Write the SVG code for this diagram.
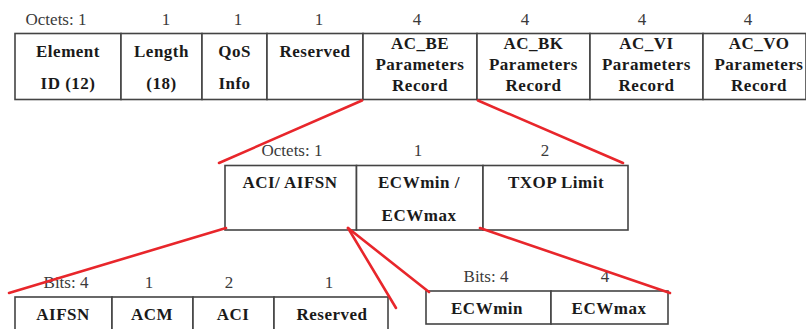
<svg xmlns="http://www.w3.org/2000/svg" width="806" height="329" viewBox="0 0 806 329">
<style>
.cell{fill:#fff;stroke:#444;stroke-width:1.6}
.t{font-family:"Liberation Serif","Times New Roman",serif;font-weight:bold;font-size:17px;letter-spacing:0.5px;fill:#1a1a1a;text-anchor:middle}
.h{font-family:"Liberation Serif","Times New Roman",serif;font-size:17px;fill:#3a3a3a;text-anchor:middle}
.c{stroke:#e8262b;stroke-width:2.6;fill:none;stroke-linecap:round}
</style>
<rect width="806" height="329" fill="#fff"/>
<g id="top-table">
  <g id="top-headers">
    <text class="h" x="56" y="25">Octets: 1</text>
    <text class="h" x="166" y="25">1</text>
    <text class="h" x="238" y="25">1</text>
    <text class="h" x="319" y="25">1</text>
    <text class="h" x="417" y="25">4</text>
    <text class="h" x="525" y="25">4</text>
    <text class="h" x="642" y="25">4</text>
    <text class="h" x="748" y="25">4</text>
  </g>
  <g id="element-id"><rect class="cell" x="15" y="33.5" width="106" height="66"/><text class="t" x="68" y="57">Element</text><text class="t" x="68" y="89">ID (12)</text></g>
  <g id="length"><rect class="cell" x="121" y="33.5" width="81" height="66"/><text class="t" x="161.5" y="57">Length</text><text class="t" x="161.5" y="89">(18)</text></g>
  <g id="qos-info"><rect class="cell" x="202" y="33.5" width="65" height="66"/><text class="t" x="234.5" y="57">QoS</text><text class="t" x="234.5" y="89">Info</text></g>
  <g id="reserved"><rect class="cell" x="267" y="33.5" width="96" height="66"/><text class="t" x="315" y="57">Reserved</text></g>
  <g id="ac-be"><rect class="cell" x="363" y="33.5" width="114" height="66"/><text class="t" x="420" y="49">AC_BE</text><text class="t" x="420" y="70">Parameters</text><text class="t" x="420" y="91">Record</text></g>
  <g id="ac-bk"><rect class="cell" x="477" y="33.5" width="113" height="66"/><text class="t" x="533.5" y="49">AC_BK</text><text class="t" x="533.5" y="70">Parameters</text><text class="t" x="533.5" y="91">Record</text></g>
  <g id="ac-vi"><rect class="cell" x="590" y="33.5" width="113" height="66"/><text class="t" x="646.5" y="49">AC_VI</text><text class="t" x="646.5" y="70">Parameters</text><text class="t" x="646.5" y="91">Record</text></g>
  <g id="ac-vo"><rect class="cell" x="703" y="33.5" width="103" height="66"/><text class="t" x="759" y="49">AC_VO</text><text class="t" x="759" y="70">Parameters</text><text class="t" x="759" y="91">Record</text></g>
</g>
<g id="mid-table">
  <g id="mid-headers">
    <text class="h" x="292" y="156">Octets: 1</text>
    <text class="h" x="418" y="156">1</text>
    <text class="h" x="545" y="156">2</text>
  </g>
  <g id="aci-aifsn"><rect class="cell" x="225" y="165.5" width="131.5" height="64.5"/><text class="t" x="290" y="188">ACI/ AIFSN</text></g>
  <g id="ecw"><rect class="cell" x="356.5" y="165.5" width="126.5" height="64.5"/><text class="t" x="419" y="188">ECWmin /</text><text class="t" x="419" y="221">ECWmax</text></g>
  <g id="txop"><rect class="cell" x="483" y="165.5" width="145" height="64.5"/><text class="t" x="556" y="188">TXOP Limit</text></g>
</g>
<g id="bits-left-table">
  <g id="bits-left-headers">
    <text class="h" x="66" y="288">Bits: 4</text>
    <text class="h" x="149" y="288">1</text>
    <text class="h" x="229" y="288">2</text>
    <text class="h" x="329" y="288">1</text>
  </g>
  <g id="aifsn"><rect class="cell" x="15" y="297" width="97" height="45"/><text class="t" x="63" y="320">AIFSN</text></g>
  <g id="acm"><rect class="cell" x="112" y="297" width="81" height="45"/><text class="t" x="152" y="320">ACM</text></g>
  <g id="aci"><rect class="cell" x="193" y="297" width="81" height="45"/><text class="t" x="233" y="320">ACI</text></g>
  <g id="reserved-bits"><rect class="cell" x="274" y="297" width="114" height="45"/><text class="t" x="332" y="320">Reserved</text></g>
</g>
<g id="bits-right-table">
  <g id="bits-right-headers">
    <text class="h" x="486" y="282">Bits: 4</text>
    <text class="h" x="605" y="282">4</text>
  </g>
  <g id="ecwmin"><rect class="cell" x="426" y="291" width="125" height="33"/><text class="t" x="487" y="314">ECWmin</text></g>
  <g id="ecwmax"><rect class="cell" x="551" y="291" width="117" height="33"/><text class="t" x="609" y="314">ECWmax</text></g>
</g>
<g id="connectors">
  <line class="c" x1="362" y1="100.5" x2="219" y2="163"/>
  <line class="c" x1="478" y1="100.5" x2="623" y2="163"/>
  <line class="c" x1="226" y1="228" x2="9" y2="293"/>
  <line class="c" x1="348" y1="228" x2="396" y2="308"/>
  <line class="c" x1="348" y1="228" x2="429" y2="292"/>
  <line class="c" x1="480" y1="228" x2="670" y2="293"/>
</g>
</svg>
